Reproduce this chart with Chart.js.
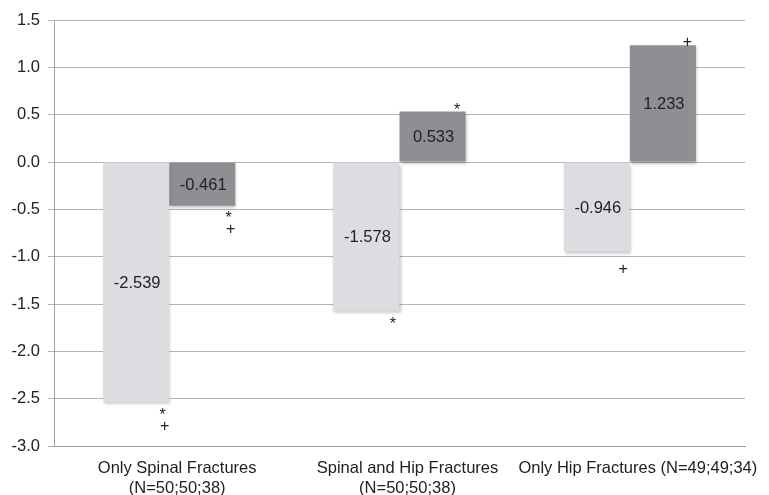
<!DOCTYPE html>
<html>
<head>
<meta charset="utf-8">
<script src="https://cdn.jsdelivr.net/npm/chart.js@4/dist/chart.umd.min.js"></script>
<style>
html,body{margin:0;padding:0;background:#fff;}
#wrap{width:769px;height:495px;position:relative;}
</style>
</head>
<body>
<div id="wrap"><canvas id="c" width="769" height="495"></canvas></div>
<script>
// ---- data ----
const categories = [
  ["Only Spinal Fractures", "(N=50;50;38)"],
  ["Spinal and Hip Fractures", "(N=50;50;38)"],
  "Only Hip Fractures (N=49;49;34)"
];
const lightValues = [-2.539, -1.578, -0.946];
const darkValues  = [-0.461, 0.533, 1.233];
const lightMarks  = [["*", "+"], ["*"], ["+"]];
const darkMarks   = [["*", "+"], ["*"], ["+"]];
const yTicks = [1.5, 1.0, 0.5, 0.0, -0.5, -1.0, -1.5, -2.0, -2.5, -3.0];

const FONT = "'Liberation Sans', Arial, Helvetica, sans-serif";
const FS = 16.5;

const shadowPlugin = {
  id: 'shadow',
  beforeDatasetsDraw(chart) {
    const ctx = chart.ctx;
    ctx.save();
    ctx.shadowColor = 'rgba(0,0,0,0.25)';
    ctx.shadowOffsetX = 1;
    ctx.shadowOffsetY = 2;
    ctx.shadowBlur = 3;
  },
  afterDatasetsDraw(chart) {
    chart.ctx.restore();
  }
};

const labelPlugin = {
  id: 'labels',
  afterDatasetsDraw(chart) {
    const ctx = chart.ctx;
    ctx.save();
    ctx.fillStyle = '#222';
    ctx.textAlign = 'center';
    ctx.textBaseline = 'middle';
    chart.data.datasets.forEach((ds, di) => {
      const meta = chart.getDatasetMeta(di);
      meta.data.forEach((bar, i) => {
        const v = ds.data[i];
        const yMid = (bar.y + bar.base) / 2;
        ctx.font = FS + "px " + FONT;
        ctx.fillText(v.toFixed(3), bar.x + 1, yMid + 1);
        // annotation marks
        const marks = ds.marks[i];
        const mx = bar.x + bar.width * 0.4;
        ctx.font = "16px " + FONT;
        if (v < 0) {
          const first = marks[0] === '*' ? 13 : 18;
          marks.forEach((m, k) => {
            const yy = bar.y + first + k * 11;
            ctx.fillText(m, mx + (m === '+' && k > 0 ? 2 : 0), yy);
          });
        } else {
          marks.slice().reverse().forEach((m, k) => {
            const yy = bar.y + (m === '*' ? -1 : -3) - k * 11;
            ctx.fillText(m, mx - 2, yy);
          });
        }
      });
    });
    ctx.restore();
  }
};

new Chart(document.getElementById('c'), {
  type: 'bar',
  data: {
    labels: categories,
    datasets: [
      { data: lightValues, marks: lightMarks, backgroundColor: '#dcdde0', borderWidth: 0 },
      { data: darkValues, marks: darkMarks, backgroundColor: '#8e8f92', borderWidth: 0 }
    ]
  },
  options: {
    responsive: false,
    animation: false,
    devicePixelRatio: 1,
    layout: { padding: { top: 20, right: 24, left: 0, bottom: 0 } },
    datasets: { bar: { categoryPercentage: 0.574, barPercentage: 1.0 } },
    plugins: { legend: { display: false }, tooltip: { enabled: false } },
    scales: {
      x: {
        grid: { drawOnChartArea: false, drawTicks: false },
        border: { display: true, color: '#a0a0a0', width: 1 },
        ticks: {
          autoSkip: false, maxRotation: 0, minRotation: 0,
          color: '#222', padding: 13, labelOffset: 8,
          font: { family: FONT, size: FS, lineHeight: 1.2 }
        },
        afterFit(scale) { scale.height = 49; }
      },
      y: {
        min: -3.0, max: 1.5,
        afterBuildTicks(scale) { scale.ticks = yTicks.map(v => ({ value: v })); },
        grid: {
          color: '#b4b4b4', lineWidth: 1, tickLength: 6,
          drawTicks: true
        },
        border: { display: true, color: '#a0a0a0', width: 1 },
        ticks: {
          color: '#222', padding: 8,
          font: { family: FONT, size: FS },
          callback: (v) => Number(v).toFixed(1)
        },
        afterFit(scale) { scale.width = 54; }
      }
    }
  },
  plugins: [shadowPlugin, labelPlugin]
});
</script>
</body>
</html>
